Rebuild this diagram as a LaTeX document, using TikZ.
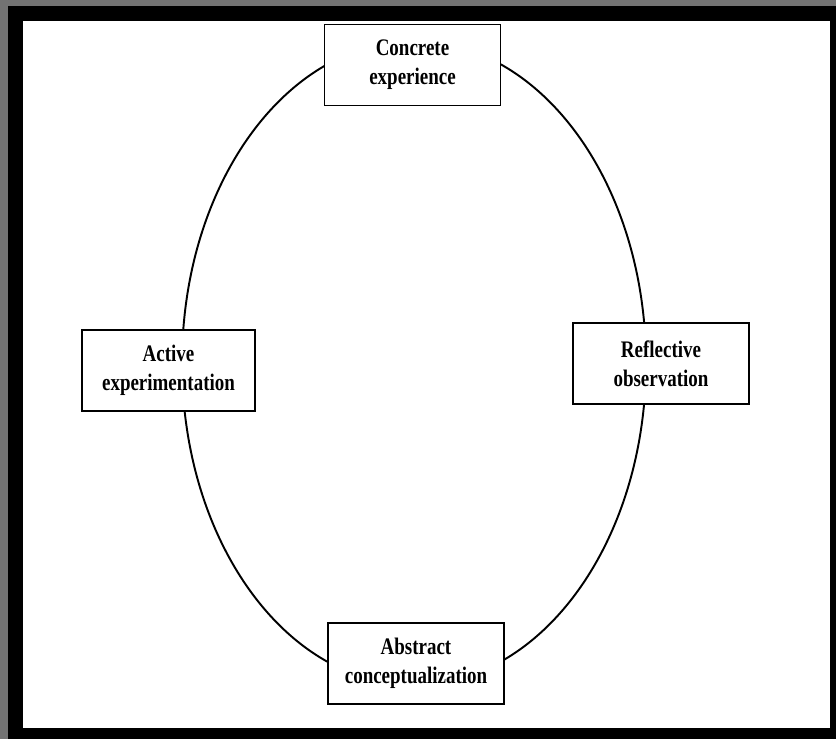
\documentclass[tikz,border=0pt]{standalone}
\usepackage{fontspec}
\setmainfont{Liberation Serif}[FakeStretch=0.8]
\usetikzlibrary{shapes.geometric}

\tikzset{
  stage/.style={draw, rectangle, fill=white, line width=1.1pt,
    minimum width=3.52cm, minimum height=1.62cm, align=center,
    font=\bfseries\fontsize{13.5}{16.4}\selectfont},
  cyclering/.style={draw, ellipse, line width=1.1pt,
    minimum width=9.28cm, minimum height=12.88cm}
}

\begin{document}
\begin{tikzpicture}[x=0.02cm, y=-0.02cm]
  \useasboundingbox (0,0) rectangle (836,739);
  % Frame
  \fill[black] (0,0) rectangle (836,739);
  \fill[black!55] (0,0) rectangle (8,739);
  \fill[black!55] (0,0) rectangle (836,6);
  \fill[white] (23,21) rectangle (830,728);
  % The cycle and its four stages
  \node[cyclering] (cycle) at (414,363) {};
  \node[stage] (concrete) at (412.5,65) {Concrete\\experience};
  \node[stage] (reflective) at (661,363.5) {Reflective\\observation};
  \node[stage] (abstract) at (416,663.5) {Abstract\\conceptualization};
  \node[stage, minimum width=3.46cm] (active) at (168.5,370.5) {Active\\experimentation};
\end{tikzpicture}
\end{document}
